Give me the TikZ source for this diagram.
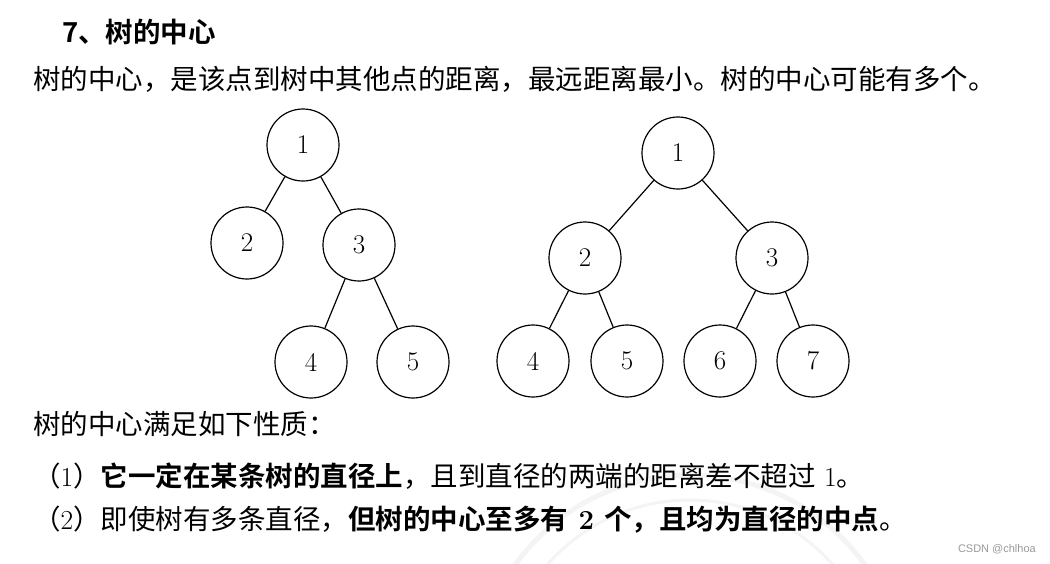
\documentclass[tikz,border=0pt]{standalone}
\usepackage{fontspec}
\usepackage{xcolor}
\usepackage{tikz}
\usetikzlibrary{positioning}
\newfontfamily\cjk{Noto Sans CJK SC}[BoldFont={Noto Sans CJK SC Bold}]
\newfontfamily\wmfont{Liberation Sans}
\definecolor{markgray}{HTML}{999999}
\definecolor{sealgray}{HTML}{F4F4F4}

\begin{document}
\begin{tikzpicture}[x=1pt, y=-1pt,
  vertex/.style={circle, draw, line width=1.2pt, minimum size=72pt, inner sep=0pt,
    font=\fontsize{27}{30}\selectfont},
  line/.style={anchor=base west, inner sep=0pt, font=\cjk\fontsize{27.5}{30}\selectfont},
  edge/.style={line width=1.2pt}]
  \useasboundingbox (0,0) rectangle (1050,563);
  % faint seal in the background
  \begin{scope}
    \clip (0,0) rectangle (1050,563);
    \draw[sealgray, line width=5pt] (690,690) circle (215);
    \draw[sealgray, line width=3pt] (690,690) circle (190);
  \end{scope}
  \node[line, font=\cjk\bfseries\fontsize{27.5}{30}\selectfont] (title) at (62,42) {7、树的中心};
  \node[line] (intro) at (33,89) {树的中心，是该点到树中其他点的距离，最远距离最小。树的中心可能有多个。};
  % left tree
  \node[vertex] (a1) at (303,145) {1};
  \node[vertex] (a2) at (247,243) {2};
  \node[vertex] (a3) at (359,245) {3};
  \node[vertex] (a4) at (311,362) {4};
  \node[vertex] (a5) at (413,362) {5};
  \draw[edge] (a1) -- (a2);
  \draw[edge] (a1) -- (a3);
  \draw[edge] (a3) -- (a4);
  \draw[edge] (a3) -- (a5);
  % right tree
  \node[vertex] (b1) at (678,153) {1};
  \node[vertex] (b2) at (585,258) {2};
  \node[vertex] (b3) at (772,258) {3};
  \node[vertex] (b4) at (533,361) {4};
  \node[vertex] (b5) at (627,361) {5};
  \node[vertex] (b6) at (720,361) {6};
  \node[vertex] (b7) at (813,361) {7};
  \draw[edge] (b1) -- (b2);
  \draw[edge] (b1) -- (b3);
  \draw[edge] (b2) -- (b4);
  \draw[edge] (b2) -- (b5);
  \draw[edge] (b3) -- (b6);
  \draw[edge] (b3) -- (b7);
  % properties
  \node[line] (props) at (33,434) {树的中心满足如下性质：};
  \node[line] (prop1) at (33,486) {（{\rmfamily 1}）\textbf{它一定在某条树的直径上}，且到直径的两端的距离差不超过{\rmfamily\ 1}。};
  \node[line] (prop2) at (33,529) {（{\rmfamily 2}）即使树有多条直径，\textbf{但树的中心至多有{\rmfamily\ 2\ }个，且均为直径的中点}。};
  \node[anchor=base east, inner sep=0pt, text=markgray, font=\wmfont\fontsize{11}{12}\selectfont] (mark) at (1036,552) {CSDN @chlhoa};
\end{tikzpicture}
\end{document}
